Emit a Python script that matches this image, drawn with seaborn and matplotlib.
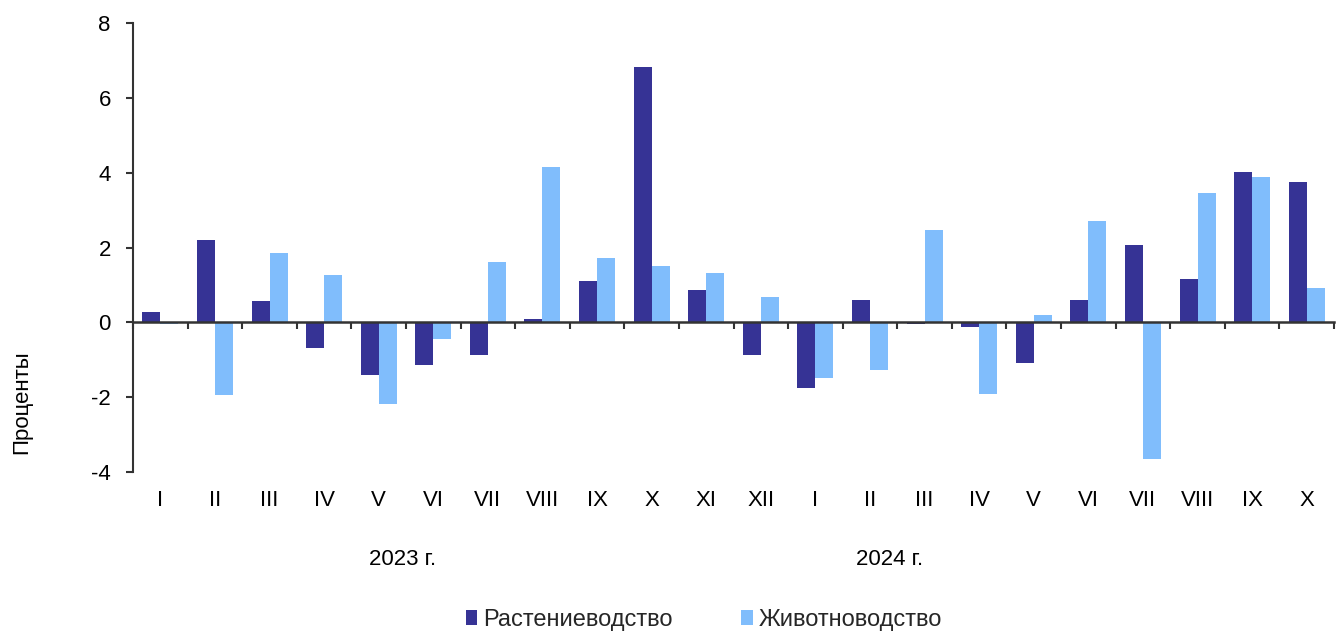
import matplotlib
matplotlib.use("Agg")
import matplotlib.pyplot as plt
import seaborn as sns
import pandas as pd
import numpy as np
from matplotlib.patches import Patch

months = ["I", "II", "III", "IV", "V", "VI", "VII", "VIII", "IX", "X", "XI", "XII",
          "I", "II", "III", "IV", "V", "VI", "VII", "VIII", "IX", "X"]
years = ["2023 г.", "2024 г."]
crop = [0.28, 2.21, 0.58, -0.68, -1.40, -1.15, -0.89, 0.09, 1.11, 6.83, 0.85, -0.88,
        -1.77, 0.60, -0.05, -0.14, -1.09, 0.59, 2.06, 1.16, 4.02, 3.76]
livestock = [-0.05, -1.96, 1.84, 1.26, -2.18, -0.46, 1.60, 4.16, 1.73, 1.51, 1.31, 0.67,
             -1.49, -1.27, 2.47, -1.93, 0.20, 2.71, -3.66, 3.45, 3.89, 0.91]
series_names = ["Растениеводство", "Животноводство"]
colors = ["#363395", "#80BDFC"]

sns.set_theme(style="white")
plt.rcParams["font.family"] = ["Liberation Sans", "DejaVu Sans"]
plt.rcParams["axes.unicode_minus"] = False

FS = 16

idx = list(range(len(months)))
df = pd.DataFrame({
    "pos": idx * 2,
    "value": crop + livestock,
    "series": [series_names[0]] * len(crop) + [series_names[1]] * len(livestock),
})

fig = plt.figure(figsize=(13.36, 6.33), dpi=100)
ax = fig.add_axes([0.0996, 0.2548, 0.8989, 0.7084])

sns.barplot(data=df, x="pos", y="value", hue="series", palette=colors,
            width=0.66, gap=0, saturation=1, ax=ax, legend=False,
            order=idx, hue_order=series_names, linewidth=0)

ax.set_xlim(-0.5, len(months) - 0.5)
ax.set_ylim(-4, 8)
ax.set_yticks([-4, -2, 0, 2, 4, 6, 8])
ax.set_yticklabels(["-4", "-2", "0", "2", "4", "6", "8"], fontsize=FS, color="black")
ax.tick_params(axis="y", direction="out", length=5, width=1.5, color="#333333", left=True, pad=11)

for s in ["top", "right"]:
    ax.spines[s].set_visible(False)
ax.spines["left"].set_color("#333333")
ax.spines["left"].set_linewidth(1.5)
ax.spines["bottom"].set_position(("data", 0))
ax.spines["bottom"].set_color("#333333")
ax.spines["bottom"].set_linewidth(1.8)
ax.set_zorder(1)

ax.set_xticks(np.arange(-0.5, len(months), 1.0))
ax.set_xticklabels([])
ax.tick_params(axis="x", direction="out", length=5, width=1.5, color="#333333", bottom=True)
ax.set_xlabel("")
ax.set_ylabel("")

tr = ax.get_xaxis_transform()
for i, m in enumerate(months):
    ax.text(i, -0.065, m, transform=tr, ha="center", va="center", fontsize=FS, color="black")
ax.text(4.43, -0.195, years[0], transform=tr, ha="center", va="center", fontsize=FS, color="black")
ax.text(13.36, -0.195, years[1], transform=tr, ha="center", va="center", fontsize=FS, color="black")

fig.text(0.016, 0.365, "Проценты", rotation=90, ha="center", va="center", fontsize=FS, color="black")

handles = [Patch(facecolor=c, edgecolor="none") for c in colors]
fig.legend(handles, series_names, loc="center", bbox_to_anchor=(0.527, 0.021), ncol=2,
           frameon=False, fontsize=17, handlelength=0.5, handleheight=0.6,
           handletextpad=0.25, columnspacing=2.9)

fig.savefig("out.png", dpi=100)
